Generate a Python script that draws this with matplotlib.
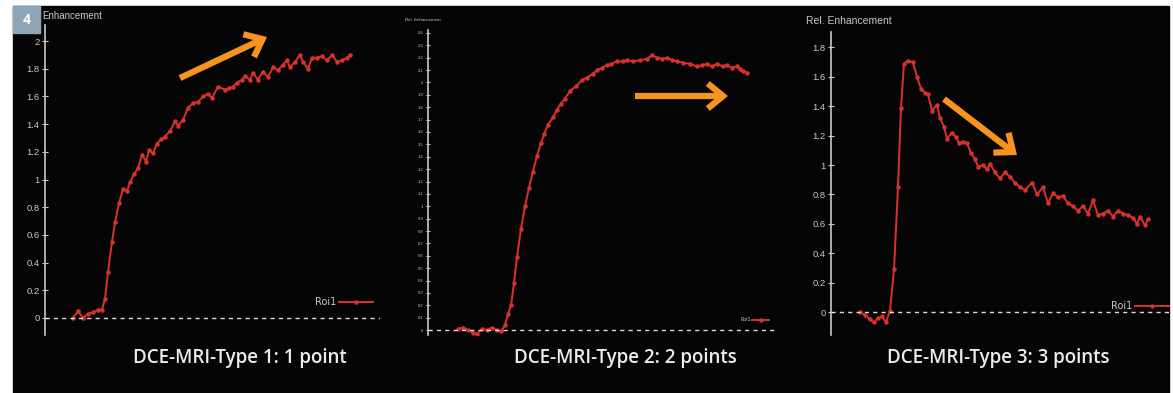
import numpy as np
import matplotlib
matplotlib.use("Agg")
import matplotlib.pyplot as plt
from matplotlib.patches import Rectangle

# --- data (time in arbitrary frames) ---
t1 = [0, 5, 10, 15, 20, 25, 29, 32, 35, 39, 42, 46, 50, 54, 57, 61, 65, 69, 73, 76,
      80, 84, 88, 92, 97, 102, 105, 110, 115, 120, 125, 130, 135, 139, 145, 152, 156,
      160, 164, 169, 172, 177, 180, 185, 190, 195, 200, 205, 210, 214, 217, 222, 227,
      230, 235, 239, 244, 249, 254, 259, 264, 269, 274, 277]
v1 = [0.00, 0.05, 0.00, 0.03, 0.04, 0.06, 0.06, 0.14, 0.33, 0.55, 0.69, 0.83, 0.93, 0.92,
      0.98, 1.04, 1.08, 1.18, 1.13, 1.21, 1.19, 1.26, 1.29, 1.31, 1.35, 1.42, 1.39, 1.43,
      1.52, 1.55, 1.56, 1.60, 1.62, 1.59, 1.67, 1.65, 1.66, 1.67, 1.70, 1.72, 1.75, 1.72,
      1.77, 1.72, 1.78, 1.74, 1.81, 1.79, 1.83, 1.86, 1.81, 1.85, 1.90, 1.85, 1.80, 1.88,
      1.88, 1.89, 1.86, 1.90, 1.85, 1.86, 1.88, 1.90]

t2 = [0, 5, 10, 15, 19, 24, 29, 34, 39, 43, 47, 50, 53, 56, 59, 63, 67, 71, 75, 79, 83,
      86, 90, 95, 99, 103, 107, 112, 118, 124, 129, 135, 139, 144, 149, 153, 159, 165,
      169, 175, 182, 189, 194, 199, 204, 209, 214, 219, 225, 232, 239, 244, 249, 254,
      259, 265, 269, 274, 279, 282, 285, 289]
v2 = [0.01, 0.02, 0.00, -0.02, -0.03, 0.01, 0.00, 0.02, 0.00, -0.01, 0.04, 0.13, 0.20,
      0.38, 0.59, 0.82, 1.00, 1.15, 1.28, 1.41, 1.51, 1.58, 1.66, 1.72, 1.78, 1.83, 1.87,
      1.93, 1.97, 2.02, 2.04, 2.07, 2.10, 2.12, 2.14, 2.15, 2.17, 2.17, 2.18, 2.17, 2.18,
      2.19, 2.22, 2.20, 2.19, 2.20, 2.18, 2.17, 2.16, 2.15, 2.13, 2.14, 2.15, 2.13, 2.15,
      2.13, 2.14, 2.12, 2.13, 2.11, 2.09, 2.08]

t3 = [0, 5, 10, 14, 18, 22, 26, 30, 34, 38, 41, 44, 48, 53, 57, 61, 65, 68, 72, 77, 80,
      84, 87, 92, 96, 99, 103, 107, 111, 115, 118, 123, 127, 130, 135, 140, 145, 150, 155,
      160, 165, 172, 177, 183, 188, 193, 198, 203, 208, 213, 218, 223, 228, 233, 238,
      243, 248, 253, 258, 263, 268, 273, 277, 280, 285, 288]
v3 = [0.00, -0.02, -0.05, -0.07, -0.04, -0.03, -0.07, 0.01, 0.29, 0.85, 1.39, 1.69, 1.71,
      1.70, 1.60, 1.52, 1.49, 1.48, 1.37, 1.41, 1.32, 1.26, 1.18, 1.22, 1.19, 1.15, 1.16,
      1.15, 1.08, 1.04, 0.99, 1.00, 0.97, 1.01, 0.95, 0.91, 0.95, 0.92, 0.88, 0.85, 0.83,
      0.88, 0.80, 0.85, 0.74, 0.81, 0.78, 0.79, 0.74, 0.72, 0.69, 0.72, 0.67, 0.76, 0.66,
      0.67, 0.69, 0.65, 0.69, 0.67, 0.66, 0.64, 0.60, 0.65, 0.59, 0.63]

titles = ["DCE-MRI-Type 1: 1 point", "DCE-MRI-Type 2: 2 points", "DCE-MRI-Type 3: 3 points"]
ylabels = ["Enhancement", "Rel. Enhancement", "Rel. Enhancement"]
ticks1 = [0, 0.2, 0.4, 0.6, 0.8, 1, 1.2, 1.4, 1.6, 1.8, 2]
ticks2 = [round(0.1 * i, 1) for i in range(25)]
ticks3 = [0, 0.2, 0.4, 0.6, 0.8, 1, 1.2, 1.4, 1.6, 1.8]

W, H = 1173, 393
RED = "#d8322c"
ORANGE = "#f7941d"
GREY = "#c8c8c8"

fig = plt.figure(figsize=(W / 100, H / 100), dpi=100, facecolor="white")


def px_axes(l, t, r, b, **kw):
    return fig.add_axes([l / W, 1 - b / H, (r - l) / W, (b - t) / H], **kw)


# background layer in image pixels: black slide + numbered badge
bg = px_axes(0, 0, W, H, zorder=-5)
bg.set_xlim(0, W)
bg.set_ylim(H, 0)
bg.axis("off")
bg.add_patch(Rectangle((13, 6), 1169 - 13, H - 6, color="#050505"))
bg.add_patch(Rectangle((13, 6), 27, 27, color="#8da5b7"))
bg.text(26.5, 20, "4", color="white", fontsize=10, fontweight="bold",
        ha="center", va="center", family="Open Sans")

# panel geometry in pixels: axes box, first data x, y limits
panels = [
    dict(box=(45, 25, 380, 335), x0=73, ylim=(-0.123, 2.116), t=t1, v=v1, ticks=ticks1,
         tfs=6.8, lab=(42, 16, 7), leg=(0.98, 0.106, 7), title_x=240),
    dict(box=(428, 30, 778, 335), x0=458, ylim=(-0.040, 2.424), t=t2, v=v2, ticks=ticks2,
         tfs=3, lab=(405, 20, 3.2), leg=(0.975, 0.05, 3.5), title_x=625),
    dict(box=(831, 32, 1169, 335), x0=860, ylim=(-0.156, 1.905), t=t3, v=v3, ticks=ticks3,
         tfs=6.8, lab=(806, 21, 7.5), leg=(1.0, 0.095, 7), title_x=998),
]

for i, p in enumerate(panels):
    l, t, r, b = p["box"]
    ax = px_axes(l, t, r, b)
    ax.set_facecolor("none")
    ax.set_xlim(l - p["x0"], r - p["x0"])
    ax.set_ylim(*p["ylim"])
    ax.plot(p["t"], p["v"], color=RED, lw=1.4, marker="o", ms=2.2, label="Roi1")
    ax.axhline(0, color="white", lw=1, ls=(0, (3, 3)), alpha=0.85)
    for s in ["top", "right", "bottom"]:
        ax.spines[s].set_visible(False)
    ax.spines["left"].set_color(GREY)
    ax.spines["left"].set_linewidth(1.2)
    ax.set_xticks([])
    ax.set_yticks(p["ticks"])
    ax.set_yticklabels(["%g" % v for v in p["ticks"]])
    ax.tick_params(axis="y", colors=GREY, labelsize=p["tfs"], direction="inout",
                   length=4 if p["tfs"] > 4 else 3, width=0.8, pad=2)
    for lbl in ax.get_yticklabels():
        lbl.set_family("Liberation Sans")
    lx, ly, lfs = p["lab"]
    bg.text(lx, ly, ylabels[i], color=GREY, fontsize=lfs,
            ha="left", va="center", family="Liberation Sans")
    bx, by, lgfs = p["leg"]
    leg = ax.legend(loc="center right", bbox_to_anchor=(bx, by), frameon=False,
                    markerfirst=False, fontsize=lgfs, handlelength=3.5, numpoints=1,
                    borderpad=0, borderaxespad=0, handletextpad=0.3)
    for txt in leg.get_texts():
        txt.set_color(GREY)
    bg.text(p["title_x"], 358, titles[i], color="#ececec", fontsize=13.5,
            fontweight="semibold", ha="center", va="center", family="Open Sans")

# overlay layer for the orange trend arrows (image pixel coords: tail -> head)
top = px_axes(0, 0, W, H, zorder=10)
top.set_xlim(0, W)
top.set_ylim(H, 0)
top.axis("off")
arrows = [((180, 78), (267, 37)), ((635, 96), (728, 96)), ((944, 99), (1017, 155))]
for (x0, y0), (x1, y1) in arrows:
    top.annotate("", xy=(x1, y1), xytext=(x0, y0),
                 arrowprops=dict(arrowstyle="->,head_length=1.1,head_width=0.9",
                                 color=ORANGE, lw=4.5, shrinkA=0, shrinkB=0,
                                 capstyle="butt", joinstyle="miter"))

fig.savefig("out.png", dpi=100, facecolor="white")
